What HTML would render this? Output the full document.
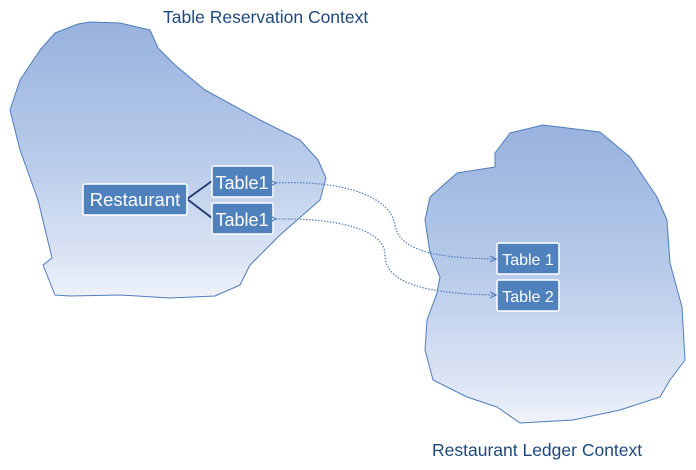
<!DOCTYPE html>
<html><head><style>
body{margin:0;background:#fff;width:696px;height:465px;overflow:hidden}
svg text{font-family:"Liberation Sans",sans-serif}
</style></head><body>
<svg width="696" height="465" viewBox="0 0 696 465">
<defs>
<linearGradient id="g" x1="0" y1="0" x2="0" y2="1">
<stop offset="0" stop-color="#98b2de"/>
<stop offset="0.5" stop-color="#b8cbea"/>
<stop offset="0.85" stop-color="#dbe4f4"/>
<stop offset="1" stop-color="#eef2fa"/>
</linearGradient>
<marker id="a" markerWidth="8" markerHeight="8" refX="7" refY="4" orient="auto" markerUnits="userSpaceOnUse">
<path d="M1,1 L7,4 L1,7" fill="none" stroke="#4f7dbb" stroke-width="1.2"/>
</marker>
</defs>
<path d="M40,50 L55,33 L78,24 L90,22 L120,23 L150,30 L158,48 L175,65 L205,90 L260,120 L300,140 L318,160 L326,178 L320,200 L280,235 L250,265 L240,285 L215,296 L170,298 L120,295 L70,296 L55,295 L43,265 L52,258 L38,200 L20,150 L10,110 L20,80 Z" fill="url(#g)" stroke="#4f7dbb" stroke-width="1" stroke-linejoin="round"/>
<path d="M495,153 L510,133 L543,125 L600,132 L630,157 L657,197 L667,220 L670,263 L682,307 L685,360 L670,380 L660,397 L620,410 L573,420 L520,423 L497,407 L467,397 L433,380 L425,350 L427,320 L437,293 L440,277 L430,253 L425,220 L430,197 L457,173 L495,167 Z" fill="url(#g)" stroke="#4f7dbb" stroke-width="1" stroke-linejoin="round"/>
<text x="163" y="23" font-size="17.5" fill="#1f497d">Table Reservation Context</text>
<text x="432" y="456" font-size="17.5" fill="#1f497d">Restaurant Ledger Context</text>
<path d="M187,199 L212,181 M187,199 L212,218" stroke="#1f3f70" stroke-width="2" fill="none"/>
<g fill="#4f81bd" stroke="#fff" stroke-width="1.5">
<rect x="83" y="184" width="104" height="31" rx="2"/>
<rect x="212" y="166" width="61" height="31" rx="2"/>
<rect x="212" y="203" width="61" height="31" rx="2"/>
<rect x="497" y="243" width="62" height="31" rx="2"/>
<rect x="497" y="280" width="62" height="31" rx="2"/>
</g>
<g fill="#fff" font-size="18.5" text-anchor="middle">
<text x="135" y="206">Restaurant</text>
<text x="242" y="189" font-size="18">Table1</text>
<text x="242" y="226" font-size="18">Table1</text>
<text x="528" y="265" font-size="16">Table 1</text>
<text x="528" y="302" font-size="16">Table 2</text>
</g>
<g fill="none" stroke="#4f7dbb" stroke-width="1.2" stroke-dasharray="1.5,1.5">
<path d="M276,183 C340,180 390,195 395,225 C400,255 450,258 496,259" marker-start="url(#a)" marker-end="url(#a)"/>
<path d="M276,219 C340,218 385,230 385,255 C385,290 450,294 496,295" marker-start="url(#a)" marker-end="url(#a)"/>
</g>
</svg>
</body></html>
